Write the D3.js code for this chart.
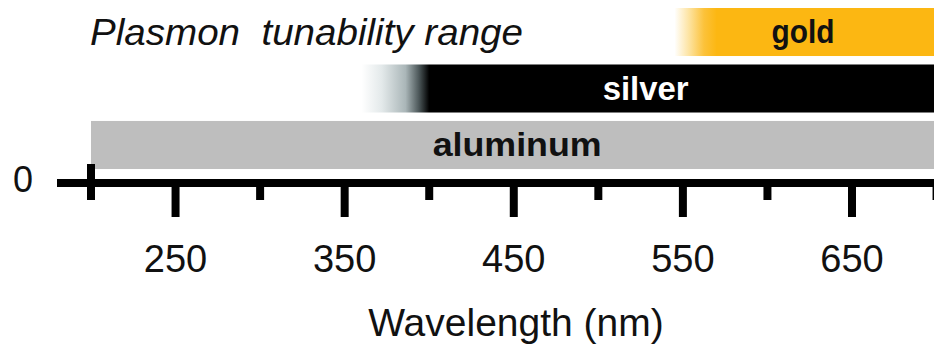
<!DOCTYPE html>
<html>
<head>
<meta charset="utf-8">
<script src="https://cdn.jsdelivr.net/npm/d3@7"></script>
<style>
  body { margin: 0; background: #fff; }
  svg { display: block; }
  text { font-family: "Liberation Sans", Arial, sans-serif; }
</style>
</head>
<body>
<div id="chart"></div>
<script>
// Plasmon tunability ranges, in nm

let metals     = ["gold", "silver", "aluminum"];
let fadeStart  = [545, 360, 200];   // where the colour begins to fade in
let solidStart = [570, 400, 200];   // where the colour is fully on
let rangeEnd   = [700, 700, 700];
let labelAt    = [621, 528, 452];   // label centre, nm
let barColor   = ["#fcb712", "#000000", "#bebebe"];
let labelColor = ["#111111", "#ffffff", "#111111"];

let majorTicks = [250, 350, 450, 550, 650];
let minorTicks = [200, 300, 400, 500, 600, 700];

let width = 934, height = 347;

let xScale = d3.scaleLinear().domain([200, 650]).range([91, 852]);
let yScale = d3.scaleBand().domain(metals).range([8, 169]).paddingInner(0.15);

let svg = d3.select("#chart").append("svg")
  .attr("width", width)
  .attr("height", height);

let defs = svg.append("defs");

// fade-in gradients, one per bar
let fadeStops = {
  gold:     [[0, "#ffffff"], [0.35, "#fde3a0"], [0.7, "#fcc23a"], [1, "#fcb712"]],
  silver:   [[0, "#ffffff"], [0.3, "#e3e9ea"], [0.65, "#aab6b8"], [0.85, "#4b5658"], [1, "#000000"]],
  aluminum: [[0, "#bebebe"], [1, "#bebebe"]]
};

metals.forEach(function(m, i) {
  let g = defs.append("linearGradient")
    .attr("id", "fade-" + m)
    .attr("gradientUnits", "userSpaceOnUse")
    .attr("x1", xScale(fadeStart[i])).attr("x2", xScale(solidStart[i]))
    .attr("y1", 0).attr("y2", 0);
  fadeStops[m].forEach(function(s) {
    g.append("stop").attr("offset", s[0]).attr("stop-color", s[1]);
  });
});

// bars
svg.append("g").selectAll("rect")
  .data(metals)
  .enter()
  .append("rect")
  .attr("x", function(d, i) { return xScale(fadeStart[i]); })
  .attr("y", function(d) { return yScale(d); })
  .attr("width", function(d, i) { return xScale(rangeEnd[i]) - xScale(fadeStart[i]); })
  .attr("height", yScale.bandwidth())
  .attr("fill", function(d) { return "url(#fade-" + d + ")"; });

// bar labels
let labelWidths = { gold: 63, silver: 86, aluminum: 169 };
svg.append("g").selectAll("text")
  .data(metals)
  .enter()
  .append("text")
  .attr("x", function(d, i) { return xScale(labelAt[i]); })
  .attr("y", function(d) { return yScale(d) + yScale.bandwidth() / 2 + 11; })
  .attr("text-anchor", "middle")
  .attr("font-size", 34)
  .attr("font-weight", "bold")
  .attr("fill", function(d, i) { return labelColor[i]; })
  .attr("textLength", function(d) { return labelWidths[d]; })
  .attr("lengthAdjust", "spacingAndGlyphs")
  .text(function(d) { return d; });

// title
svg.append("text")
  .attr("x", 90)
  .attr("y", 45)
  .attr("font-size", 37)
  .attr("font-style", "italic")
  .attr("fill", "#111")
  .attr("textLength", 433)
  .attr("lengthAdjust", "spacingAndGlyphs")
  .style("white-space", "pre")
  .text("Plasmon  tunability range");

// axis
let axisY = 183;
let axis = svg.append("g");

axis.append("line")
  .attr("x1", 57).attr("x2", width)
  .attr("y1", axisY).attr("y2", axisY)
  .attr("stroke", "#000")
  .attr("stroke-width", 8);

axis.selectAll(".major")
  .data(majorTicks)
  .enter()
  .append("line")
  .attr("class", "major")
  .attr("x1", function(d) { return xScale(d); })
  .attr("x2", function(d) { return xScale(d); })
  .attr("y1", axisY)
  .attr("y2", 217)
  .attr("stroke", "#000")
  .attr("stroke-width", 8);

axis.selectAll(".minor")
  .data(minorTicks)
  .enter()
  .append("line")
  .attr("class", "minor")
  .attr("x1", function(d) { return xScale(d); })
  .attr("x2", function(d) { return xScale(d); })
  .attr("y1", function(d) { return d === 200 ? 164 : axisY; })
  .attr("y2", 200)
  .attr("stroke", "#000")
  .attr("stroke-width", 8);

axis.selectAll(".tick-label")
  .data(majorTicks)
  .enter()
  .append("text")
  .attr("class", "tick-label")
  .attr("x", function(d) { return xScale(d); })
  .attr("y", 272)
  .attr("text-anchor", "middle")
  .attr("font-size", 38)
  .attr("fill", "#111")
  .text(function(d) { return d; });

// zero label
svg.append("text")
  .attr("x", 23)
  .attr("y", 192)
  .attr("text-anchor", "middle")
  .attr("font-size", 36)
  .attr("fill", "#111")
  .text("0");

// axis title
svg.append("text")
  .attr("x", 516)
  .attr("y", 336)
  .attr("text-anchor", "middle")
  .attr("font-size", 39)
  .attr("fill", "#111")
  .text("Wavelength (nm)");
</script>
</body>
</html>
